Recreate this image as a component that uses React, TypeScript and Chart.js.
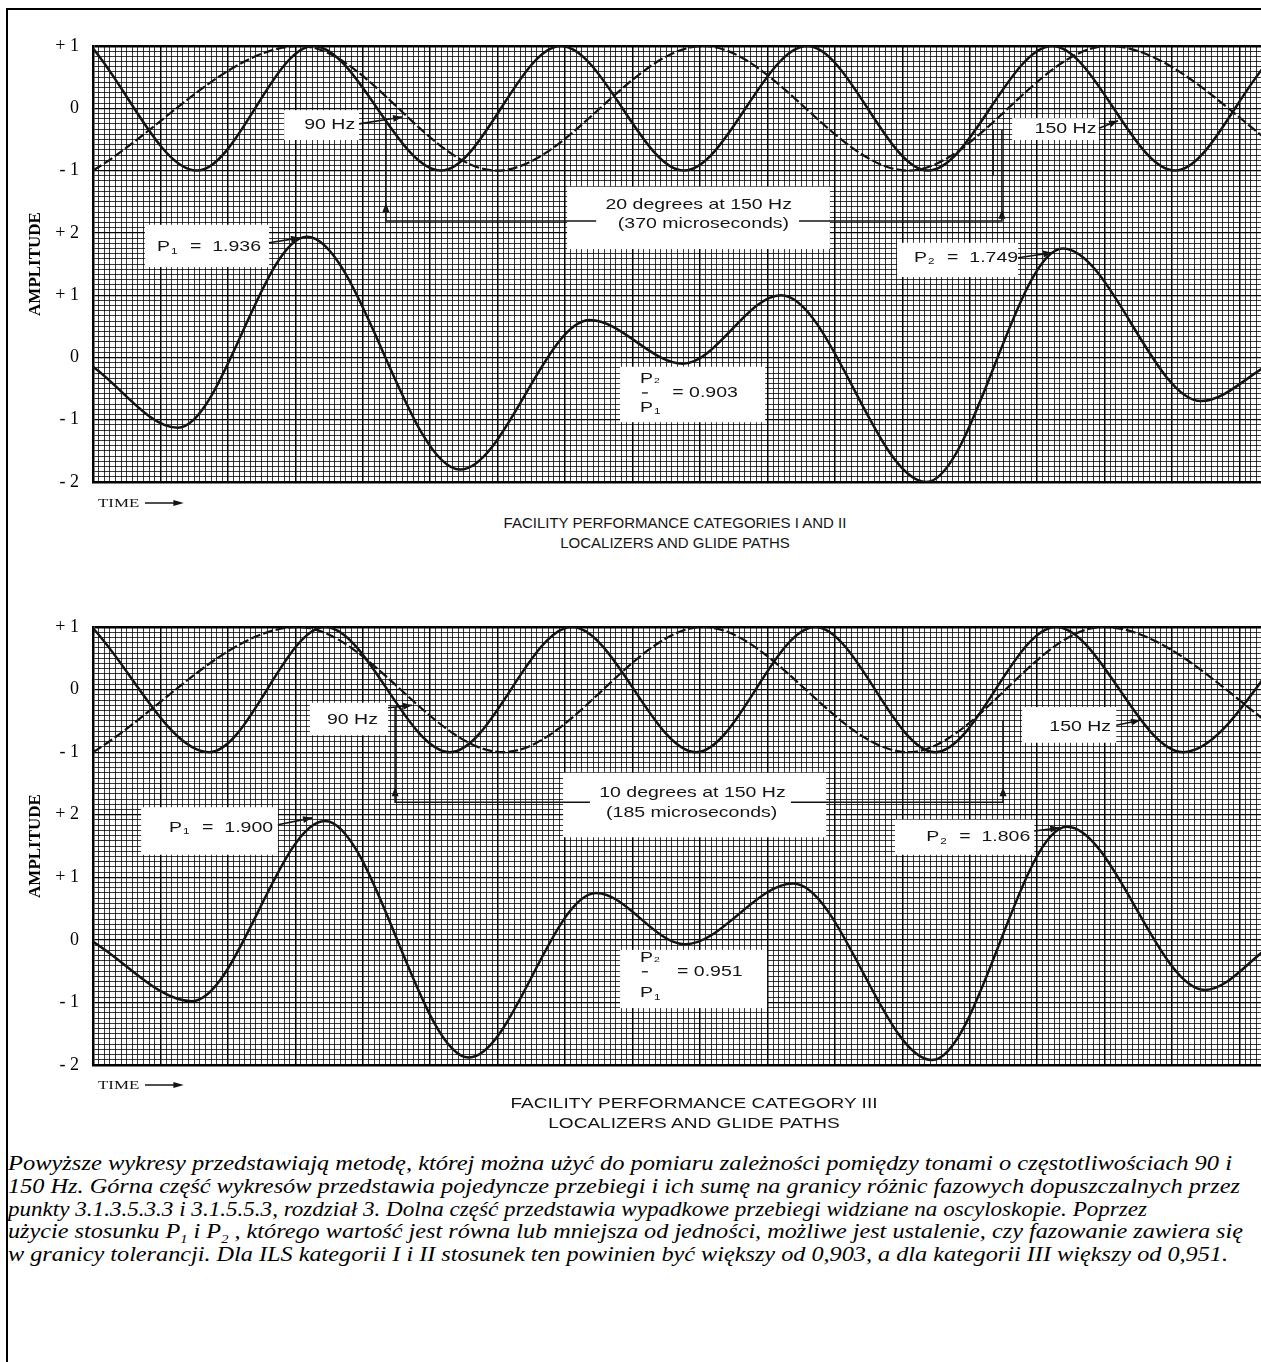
import React, { useEffect, useRef } from 'react';
import { Chart, registerables } from 'chart.js';

Chart.register(...registerables);

// ───────────────────────── data ─────────────────────────
// x: time in ms from the left edge of the trace (one 30 Hz beat = 33.33 ms)
// y: amplitude (tones plotted on their own -1..+1 band, the sum on -2..+2)
const T_MAX = 33.33;

const Y_TICK_VALUES = [5, 4, 3, 2, 1, 0, -1, -2];
const Y_TICK_LABELS = ['+ 1', '0', '- 1', '+ 2', '+ 1', '0', '- 1', '- 2'];

const P1_CAT12 = 1.936;
const P2_CAT12 = 1.749;
const P1_CAT3 = 1.9;
const P2_CAT3 = 1.806;

// Categories I and II (upper figure) – turning points
const cat12Time150 = [0, 2.83, 5.99, 9.47, 12.73, 16.08, 19.43, 22.72, 26.1, 29.44, 32.71, 33.33];
const cat12Tone150 = [0.96, -1, 1, -1, 1, -1, 1, -1, 1, -1, 1, 0.83];
const cat12Time90 = [0, 5.63, 10.99, 16.6, 22.18, 27.62, 33.1];
const cat12Tone90 = [-1, 1, -1, 1, -1, 1, -1];
const cat12TimeSum = [0, 2.31, 5.82, 9.99, 13.52, 16.05, 18.72, 22.67, 26.39, 30.15, 32.03];
const cat12Sum = [-0.15, -1.13, P1_CAT12, -1.8, 0.6, -0.1, 1.0, -2.0, P2_CAT12, -0.7, -0.1];

// Category III (lower figure)
const cat3Time150 = [0, 3.16, 6.31, 9.71, 13.03, 16.41, 19.65, 22.91, 26.2, 29.66, 32.95];
const cat3Tone150 = [0.98, -1, 1, -1, 1, -1, 1, -1, 1, -1, 1];
const cat3Time90 = [0, 5.58, 11.16, 16.6, 22.18, 27.48, 33.1];
const cat3Tone90 = [-1, 1, -1, 1, -1, 1, -1];
const cat3TimeSum = [0, 2.69, 6.31, 10.23, 13.69, 16.11, 19.05, 22.83, 26.5, 30.26, 32.03];
const cat3Sum = [-0.03, -0.98, P1_CAT3, -1.88, 0.75, -0.07, 0.9, -1.92, P2_CAT3, -0.8, -0.1];

const CAPTION_LINES = [
  'Powyższe wykresy przedstawiają metodę, której można użyć do pomiaru zależności pomiędzy tonami o częstotliwościach 90 i',
  '150 Hz. Górna część wykresów przedstawia pojedyncze przebiegi i ich sumę na granicy różnic fazowych dopuszczalnych przez',
  'punkty 3.1.3.5.3.3 i 3.1.5.5.3, rozdział 3. Dolna część przedstawia wypadkowe przebiegi widziane na oscyloskopie. Poprzez',
  '',
  'w granicy tolerancji. Dla ILS kategorii I i II stosunek ten powinien być większy od 0,903, a dla kategorii III większy od 0,951.',
];

// ───────────────────────── styling ─────────────────────────
const SANS = '"Liberation Sans", Arial, Helvetica, sans-serif';
const SERIF = '"Liberation Serif", "Times New Roman", serif';
const INK = '#141414';
const STRETCH = 1.3; // the scanned figure is stretched horizontally
const CANVAS_W = 1322;
const PAD_BOTTOM = 30;
const MAJOR_X = 1.835; // ms between heavy vertical rulings
const GRID_X = Array.from({ length: Math.floor(T_MAX / (MAJOR_X / 12)) + 1 }, (_, i) => (i * MAJOR_X) / 12);
const GRID_Y = Array.from({ length: 7 * 12 + 1 }, (_, i) => -2 + i / 12);
const CAPTION_WIDTHS = [1224, 1232, 1139, 1235, 1220];
const FINE = 'rgba(0,0,0,0.78)';

type Pt = [number, number];
type Ann = {
  boxes: [number, number, number, number][];
  lines: { pts: Pt[]; arrow?: boolean }[];
  heads: Pt[];
  labels: { x: number; y: number; text: string }[];
  peaks: { x: number; y: number; sub: string; value: string }[];
  ratio: { x: number; yTop: number; yBar: number; yBot: number; xEq: number; value: string };
};

const ANN_CAT12: Ann = {
  boxes: [
    [5.2, 7.24, 3.97, 3.49],
    [25.01, 27.37, 3.84, 3.49],
    [12.9, 20.05, 2.74, 1.74],
    [1.41, 4.79, 2.13, 1.45],
    [21.88, 25.17, 1.84, 1.29],
    [14.34, 18.29, -0.15, -1.04],
  ],
  lines: [
    { pts: [[7.24, 3.75], [8.41, 3.86]], arrow: true },
    { pts: [[27.37, 3.68], [27.89, 3.8]], arrow: true },
    { pts: [[4.79, 1.84], [5.63, 1.92]], arrow: true },
    { pts: [[25.17, 1.6], [26.1, 1.68]], arrow: true },
    { pts: [[7.97, 3.78], [7.97, 2.19], [13.69, 2.19]] },
    { pts: [[19.21, 2.19], [24.73, 2.19], [24.73, 3.65]] },
    { pts: [[24.49, 3.65], [24.49, 2.93]] },
  ],
  heads: [[7.97, 2.48], [24.73, 2.37]],
  labels: [
    { x: 6.44, y: 3.73, text: '90 Hz' },
    { x: 26.46, y: 3.67, text: '150 Hz' },
    { x: 16.48, y: 2.45, text: '20 degrees at 150 Hz' },
    { x: 16.61, y: 2.14, text: '(370 microseconds)' },
  ],
  peaks: [
    { x: 1.74, y: 1.77, sub: '1', value: P1_CAT12.toFixed(3) },
    { x: 22.34, y: 1.6, sub: '2', value: P2_CAT12.toFixed(3) },
  ],
  ratio: { x: 14.88, yTop: -0.35, yBar: -0.57, yBot: -0.81, xEq: 15.76, value: (P2_CAT12 / P1_CAT12).toFixed(3) },
};

const ANN_CAT3: Ann = {
  boxes: [
    [5.9, 8.03, 3.79, 3.27],
    [25.28, 27.84, 3.72, 3.15],
    [12.79, 19.95, 2.67, 1.64],
    [1.31, 5.03, 2.12, 1.36],
    [21.82, 25.61, 1.92, 1.36],
    [14.34, 18.34, -0.16, -1.09],
  ],
  lines: [
    { pts: [[8.03, 3.71], [8.68, 3.75]], arrow: true },
    { pts: [[27.84, 3.43], [28.49, 3.51]], arrow: true },
    { pts: [[5.03, 1.84], [5.96, 1.95]], arrow: true },
    { pts: [[25.61, 1.74], [26.29, 1.79]], arrow: true },
    { pts: [[8.22, 3.72], [8.22, 2.2], [13.52, 2.2]] },
    { pts: [[18.99, 2.2], [24.76, 2.2], [24.76, 3.51]] },
  ],
  heads: [[8.22, 2.44], [24.76, 2.44]],
  labels: [
    { x: 7.06, y: 3.51, text: '90 Hz' },
    { x: 26.86, y: 3.4, text: '150 Hz' },
    { x: 16.31, y: 2.35, text: '10 degrees at 150 Hz' },
    { x: 16.29, y: 2.03, text: '(185 microseconds)' },
  ],
  peaks: [
    { x: 2.07, y: 1.79, sub: '1', value: P1_CAT3.toFixed(3) },
    { x: 22.67, y: 1.64, sub: '2', value: P2_CAT3.toFixed(3) },
  ],
  ratio: { x: 14.88, yTop: -0.29, yBar: -0.51, yBot: -0.85, xEq: 15.89, value: (P2_CAT3 / P1_CAT3).toFixed(3) },
};

// ───────────────────────── drawing helpers ─────────────────────────
function sText(ctx: CanvasRenderingContext2D, text: string, x: number, y: number, size: number, align: CanvasTextAlign) {
  ctx.save();
  ctx.font = `${size}px ${SANS}`;
  ctx.fillStyle = INK;
  ctx.textBaseline = 'middle';
  ctx.textAlign = align;
  ctx.translate(x, y);
  ctx.scale(STRETCH, 1);
  ctx.fillText(text, 0, 0);
  ctx.restore();
}
function sWidth(ctx: CanvasRenderingContext2D, text: string, size: number) {
  ctx.save();
  ctx.font = `${size}px ${SANS}`;
  const w = ctx.measureText(text).width * STRETCH;
  ctx.restore();
  return w;
}
function head(ctx: CanvasRenderingContext2D, x1: number, y1: number, x2: number, y2: number) {
  const a = Math.atan2(y2 - y1, x2 - x1);
  const len = 9;
  const half = 3.5;
  ctx.beginPath();
  ctx.moveTo(x2, y2);
  ctx.lineTo(x2 - len * Math.cos(a) + half * Math.sin(a), y2 - len * Math.sin(a) - half * Math.cos(a));
  ctx.lineTo(x2 - len * Math.cos(a) - half * Math.sin(a), y2 - len * Math.sin(a) + half * Math.cos(a));
  ctx.closePath();
  ctx.fill();
}

function annotationPlugin(ann: Ann) {
  return {
    id: 'figureAnnotations',
    beforeDatasetsDraw(chart: any) {
      const { ctx } = chart;
      const sx = chart.scales.x;
      const sy = chart.scales.y;
      ctx.save();
      ctx.fillStyle = '#ffffff';
      ann.boxes.forEach(([x1, x2, y1, y2]) => {
        const a = sx.getPixelForValue(x1);
        const b = sx.getPixelForValue(x2);
        const c = sy.getPixelForValue(y1);
        const d = sy.getPixelForValue(y2);
        ctx.fillRect(a, c, b - a, d - c);
      });
      ctx.restore();
    },
    afterDatasetsDraw(chart: any) {
      const { ctx } = chart;
      const sx = chart.scales.x;
      const sy = chart.scales.y;
      const P = (p: Pt) => [sx.getPixelForValue(p[0]), sy.getPixelForValue(p[1])];
      ctx.save();
      ctx.strokeStyle = INK;
      ctx.fillStyle = INK;
      ctx.lineWidth = 1.6;
      ann.lines.forEach((l) => {
        const pts = l.pts.map(P);
        ctx.beginPath();
        pts.forEach(([x, y], i) => (i ? ctx.lineTo(x, y) : ctx.moveTo(x, y)));
        ctx.stroke();
        if (l.arrow) {
          const [x1, y1] = pts[pts.length - 2];
          const [x2, y2] = pts[pts.length - 1];
          head(ctx, x1, y1, x2, y2);
        }
      });
      ann.heads.forEach((h) => {
        const [x, y] = P(h);
        head(ctx, x, y + 10, x, y);
      });
      ann.labels.forEach((t) => {
        const [x, y] = P([t.x, t.y]);
        sText(ctx, t.text, x, y, 15, 'center');
      });
      ann.peaks.forEach((p) => {
        const [x, y] = P([p.x, p.y]);
        sText(ctx, 'P', x, y, 15, 'left');
        const w = sWidth(ctx, 'P', 15);
        sText(ctx, p.sub, x + w + 1, y + 4, 9, 'left');
        sText(ctx, '=  ' + p.value, x + 33, y, 15, 'left');
      });
      const r = ann.ratio;
      const [rx, ryTop] = P([r.x, r.yTop]);
      const [, ryBar] = P([r.x, r.yBar]);
      const [, ryBot] = P([r.x, r.yBot]);
      const [rxEq] = P([r.xEq, r.yBar]);
      const wp = sWidth(ctx, 'P', 15);
      sText(ctx, 'P', rx, ryTop, 15, 'left');
      sText(ctx, '2', rx + wp + 1, ryTop + 2, 8, 'left');
      ctx.lineWidth = 1.3;
      ctx.beginPath();
      ctx.moveTo(rx + 2, ryBar);
      ctx.lineTo(rx + 8, ryBar);
      ctx.stroke();
      sText(ctx, 'P', rx, ryBot, 15, 'left');
      sText(ctx, '1', rx + wp + 1, ryBot + 4, 9, 'left');
      sText(ctx, '= ' + r.value, rxEq, ryBar, 15, 'left');
      ctx.restore();
    },
  };
}

const pts = (ts: number[], vs: number[]) => ts.map((t, i) => ({ x: t, y: vs[i] }));

function traces(t150: number[], v150: number[], t90: number[], v90: number[], tS: number[], vS: number[]) {
  const base = { pointRadius: 0, borderColor: INK, fill: false, cubicInterpolationMode: 'monotone' as const };
  return [
    { ...base, label: '150 Hz', data: pts(t150, v150), yAxisID: 'yTone', borderWidth: 2.5 },
    { ...base, label: '90 Hz', data: pts(t90, v90), yAxisID: 'yTone', borderWidth: 2.2, borderDash: [10, 3] },
    { ...base, label: 'Sum', data: pts(tS, vS), yAxisID: 'y', borderWidth: 2.5 },
  ];
}

const isInt = (v: number) => Math.abs(v - Math.round(v)) < 1e-6;

function Panel(props: { top: number; padTop: number; height: number; datasets: any[]; ann: Ann }) {
  const ref = useRef<HTMLCanvasElement>(null);
  useEffect(() => {
    const chart = new Chart(ref.current as HTMLCanvasElement, {
      type: 'line',
      data: { datasets: props.datasets },
      options: {
        animation: false,
        responsive: false,
        devicePixelRatio: 1,
        layout: { padding: { top: props.padTop, bottom: PAD_BOTTOM, left: 0, right: 4 } },
        plugins: { legend: { display: false }, tooltip: { enabled: false }, title: { display: false } },
        events: [],
        scales: {
          x: {
            type: 'linear',
            min: 0,
            max: T_MAX,
            afterBuildTicks: (s: any) => {
              s.ticks = GRID_X.map((value) => ({ value }));
            },
            afterFit: (s: any) => {
              s.height = 0;
            },
            ticks: { display: false, autoSkip: false },
            grid: {
              drawTicks: false,
              color: (c: any) => (c.index % 12 === 0 ? '#000' : FINE),
              lineWidth: (c: any) => (c.index % 12 === 0 ? 1.5 : 1),
            },
            border: { display: true, color: '#000', width: 2.5 },
          },
          y: {
            type: 'linear',
            position: 'left',
            min: -2,
            max: 5,
            afterBuildTicks: (s: any) => {
              s.ticks = GRID_Y.map((value) => ({ value }));
            },
            afterFit: (s: any) => {
              s.width = 93;
            },
            ticks: {
              autoSkip: false,
              padding: 14,
              color: '#000',
              font: { family: SERIF, size: 18 },
              callback: (v: any) => {
                const i = Y_TICK_VALUES.findIndex((t) => Math.abs(t - v) < 1e-6);
                return i >= 0 ? Y_TICK_LABELS[i] : '';
              },
            },
            grid: {
              drawTicks: false,
              color: (c: any) => (c.tick && isInt(c.tick.value) ? '#000' : FINE),
              lineWidth: (c: any) => {
                const v = c.tick ? c.tick.value : 0;
                if (Math.abs(v - 5) < 1e-6) return 2.5;
                return isInt(v) ? 1.2 : 1;
              },
            },
            border: { display: true, color: '#000', width: 2.5 },
            title: {
              display: true,
              text: 'AMPLITUDE',
              color: '#000',
              font: { family: SERIF, size: 17, weight: 'bold' },
              padding: { top: 25, bottom: 0 },
            },
          },
          yTone: { type: 'linear', min: -6, max: 1, display: false },
        },
      } as any,
      plugins: [annotationPlugin(props.ann)],
    });
    return () => chart.destroy();
  }, []);
  return (
    <canvas
      ref={ref}
      width={CANVAS_W}
      height={props.height}
      style={{ position: 'absolute', left: 0, top: props.top, width: CANVAS_W, height: props.height }}
    />
  );
}

function TimeLabel({ top }: { top: number }) {
  return (
    <div
      style={{
        position: 'absolute',
        left: 98,
        top,
        height: 16,
        display: 'flex',
        alignItems: 'center',
        font: `13px ${SERIF}`,
        color: INK,
        transform: `scaleX(${STRETCH})`,
        transformOrigin: 'left center',
      }}
    >
      <span>TIME</span>
      <svg width={30} height={8} style={{ marginLeft: 4 }}>
        <line x1={0} y1={4} x2={24} y2={4} stroke={INK} strokeWidth={1.3} />
        <polygon points="22,1 30,4 22,7" fill={INK} />
      </svg>
    </div>
  );
}

function FigureTitle({ top, lines, center, stretch }: { top: number; lines: string[]; center: number; stretch: number }) {
  return (
    <div
      style={{
        position: 'absolute',
        left: center - 700,
        width: 1400,
        top,
        textAlign: 'center',
        font: `15px ${SANS}`,
        lineHeight: '20px',
        color: INK,
        transform: `scaleX(${stretch})`,
        transformOrigin: '700px 0',
        whiteSpace: 'nowrap',
      }}
    >
      {lines.map((l, i) => (
        <div key={i}>{l}</div>
      ))}
    </div>
  );
}

function Caption() {
  const ref = useRef<HTMLDivElement>(null);
  useEffect(() => {
    const el = ref.current as HTMLDivElement;
    const spans = Array.from(el.querySelectorAll('span.cl')) as HTMLSpanElement[];
    spans.forEach((s, i) => {
      const w = s.getBoundingClientRect().width;
      if (w > 0) s.style.transform = `scaleX(${CAPTION_WIDTHS[i] / w})`;
    });
  }, []);
  const subStyle: React.CSSProperties = { fontSize: 12, position: 'relative', top: 5, lineHeight: 0 };
  return (
    <div
      ref={ref}
      style={{
        position: 'absolute',
        left: 8,
        top: 1152,
        font: `italic 20px ${SERIF}`,
        lineHeight: '22.8px',
        color: '#000',
        whiteSpace: 'nowrap',
      }}
    >
      {CAPTION_LINES.map((l, i) => (
        <div key={i} style={{ height: 22.8 }}>
          <span className="cl" style={{ display: 'inline-block', transformOrigin: 'left top' }}>
            {i === 3 ? (
              <>
                użycie stosunku P<span style={subStyle}>1</span> i P<span style={subStyle}>2</span> , którego wartość jest
                równa lub mniejsza od jedności, możliwe jest ustalenie, czy fazowanie zawiera się
              </>
            ) : (
              l
            )}
          </span>
        </div>
      ))}
    </div>
  );
}

export default function App() {
  const dsTop = traces(cat12Time150, cat12Tone150, cat12Time90, cat12Tone90, cat12TimeSum, cat12Sum);
  const dsBot = traces(cat3Time150, cat3Tone150, cat3Time90, cat3Tone90, cat3TimeSum, cat3Sum);
  return (
    <div
      style={{
        position: 'absolute',
        left: 0,
        top: 0,
        width: 1261,
        height: 1362,
        overflow: 'hidden',
        background: '#fff',
      }}
    >
      <div style={{ position: 'absolute', left: 6, top: 8, width: 1400, height: 1500, border: '2px solid #000' }} />
      <Panel top={0} padTop={46} height={482 + PAD_BOTTOM} datasets={dsTop} ann={ANN_CAT12} />
      <TimeLabel top={495} />
      <FigureTitle
        top={513}
        center={675}
        stretch={1}
        lines={['FACILITY PERFORMANCE CATEGORIES I AND II', 'LOCALIZERS AND GLIDE PATHS']}
      />
      <Panel top={580} padTop={47} height={1065 - 580 + PAD_BOTTOM} datasets={dsBot} ann={ANN_CAT3} />
      <TimeLabel top={1077} />
      <FigureTitle
        top={1093}
        center={694}
        stretch={1.27}
        lines={['FACILITY PERFORMANCE CATEGORY III', 'LOCALIZERS AND GLIDE PATHS']}
      />
      <Caption />
    </div>
  );
}
